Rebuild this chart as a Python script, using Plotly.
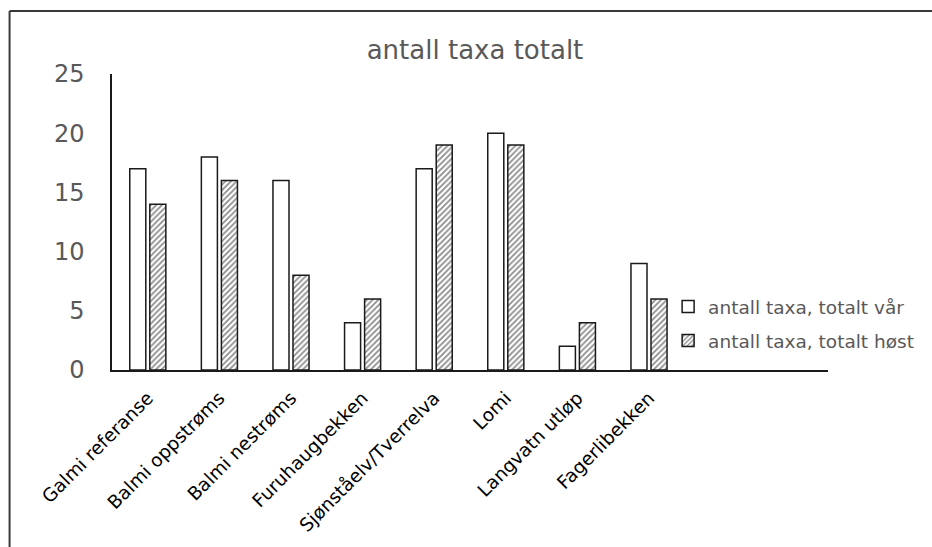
import plotly.graph_objects as go

categories = ["Galmi referanse", "Balmi oppstrøms", "Balmi nestrøms", "Furuhaugbekken",
              "Sjønståelv/Tverrelva", "Lomi", "Langvatn utløp", "Fagerlibekken"]
spring = [17, 18, 16, 4, 17, 20, 2, 9]
autumn = [14, 16, 8, 6, 19, 19, 4, 6]
series_names = ["antall taxa, totalt vår", "antall taxa, totalt høst"]
y_ticks = [0, 5, 10, 15, 20, 25]
title_text = "antall taxa totalt"

W, H = 932, 547
L, R, T, B = 111.5, 104, 74, 177

fig = go.Figure()
fig.add_trace(go.Bar(
    x=categories, y=spring, name=series_names[0], legendgroup="a",
    marker=dict(color="white", line=dict(color="#1a1a1a", width=1.5)),
))
fig.add_trace(go.Bar(
    x=categories, y=autumn, name=series_names[1], legendgroup="b",
    marker=dict(color="white", line=dict(color="#1a1a1a", width=1.5),
                pattern=dict(shape="/", fgcolor="#1a1a1a", bgcolor="white",
                             size=4, solidity=0.45, fillmode="overlay")),
))

pw = W - L - R
ph = H - T - B
def px_to_paper_x(px):
    return (px - L) / pw
def px_to_paper_y(py):
    return (H - B - py) / ph

frame_color = "#3a3a3a"
fig.update_layout(
    width=W, height=H,
    margin=dict(l=L, r=R, t=T, b=B, pad=0),
    paper_bgcolor="white", plot_bgcolor="white",
    barmode="group", bargap=0.44, bargroupgap=0.2,
    title=dict(text=title_text, x=475 / W, xref="container",
               y=1 - 50 / H, yref="container", xanchor="center", yanchor="middle",
               font=dict(family="DejaVu Sans", size=26, color="#595959")),
    showlegend=True,
    legend=dict(x=px_to_paper_x(668), y=px_to_paper_y(288), xanchor="left", yanchor="top",
                font=dict(family="DejaVu Sans", size=18.5, color="#595959"),
                bgcolor="rgba(0,0,0,0)", tracegroupgap=7, itemwidth=30),
    xaxis=dict(type="category", range=[-0.5, 9.5], showgrid=False,
               showline=True, linecolor="#1a1a1a", linewidth=2, ticks="",
               tickangle=-45, ticklabelstandoff=8,
               tickfont=dict(family="DejaVu Sans", size=18.5, color="#000000"),
               fixedrange=True),
    yaxis=dict(range=[0, 25], tickvals=y_ticks, showgrid=False, zeroline=False,
               showline=True, linecolor="#1a1a1a", linewidth=1.5, ticks="",
               ticklabelstandoff=21,
               tickfont=dict(family="DejaVu Sans", size=24, color="#595959"),
               fixedrange=True),
    shapes=[
        dict(type="line", xref="paper", yref="paper",
             x0=px_to_paper_x(9), x1=px_to_paper_x(9),
             y0=px_to_paper_y(560), y1=px_to_paper_y(11),
             line=dict(color=frame_color, width=2), layer="below"),
        dict(type="line", xref="paper", yref="paper",
             x0=px_to_paper_x(9), x1=px_to_paper_x(945),
             y0=px_to_paper_y(11), y1=px_to_paper_y(11),
             line=dict(color=frame_color, width=2), layer="below"),
    ],
)

fig.write_html("out.html")
